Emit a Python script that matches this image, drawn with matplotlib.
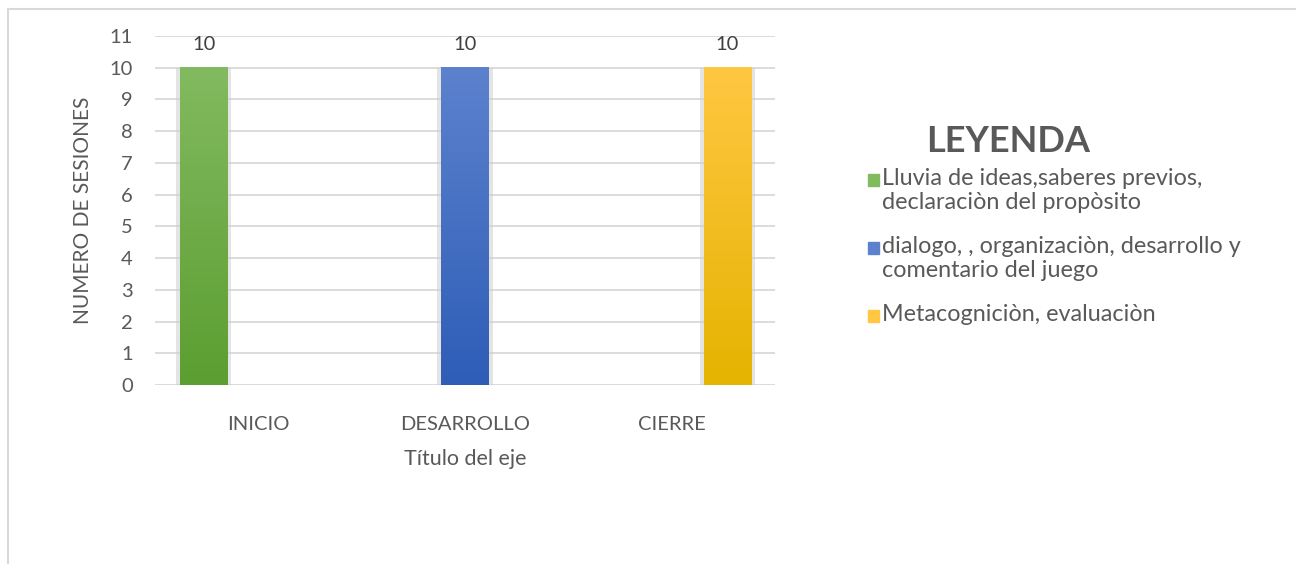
import numpy as np
import matplotlib.pyplot as plt
from matplotlib.patches import Rectangle
from matplotlib.colors import LinearSegmentedColormap

categories = ["INICIO", "DESARROLLO", "CIERRE"]
series_names = [
    "Lluvia de ideas,saberes previos,\ndeclaraciòn del propòsito",
    "dialogo, , organizaciòn, desarrollo y\ncomentario del juego",
    "Metacogniciòn, evaluaciòn",
]
values_lluvia = [10, np.nan, np.nan]
values_dialogo = [np.nan, 10, np.nan]
values_meta = [np.nan, np.nan, 10]
series_values = [values_lluvia, values_dialogo, values_meta]

# top / bottom colours of the gradient fill, like the Excel style
grad_colors = [
    ("#82ba60", "#5c9e31"),
    ("#5c82cd", "#2e5db7"),
    ("#ffc742", "#e5b300"),
]

plt.rcParams["font.family"] = ["Lato", "DejaVu Sans"]
text_col = "#595959"
W, H = 1296, 564

fig = plt.figure(figsize=(W / 100, H / 100), dpi=100)
ax = fig.add_axes([155 / W, 1 - 385 / H, 620 / W, 349 / H])

# outer chart border (runs off the right and bottom edge)
fig.patches.append(Rectangle((8 / W, -0.1), 1.2, 1 - 9 / H + 0.1,
                             transform=fig.transFigure, fill=False,
                             edgecolor="#d9d9d9", lw=1.5))

x = np.arange(len(categories))
width = 0.228
offsets = [-0.265, 0.0, 0.27]

ax.set_xlim(-0.5, len(categories) - 0.5)
ax.set_ylim(0, 11)

for vals, name, off, (ctop, cbot) in zip(series_values, series_names, offsets, grad_colors):
    # soft shadow behind the bars
    ax.bar(x + off, vals, width + 0.04, color="#cfcfcf", alpha=0.55, zorder=2)
    bars = ax.bar(x + off, vals, width, color=cbot, label=name, zorder=3)
    cmap = LinearSegmentedColormap.from_list("g", [cbot, ctop])
    grad = np.linspace(0, 1, 256).reshape(-1, 1)
    for b, v in zip(bars, vals):
        if np.isnan(v):
            continue
        ax.imshow(grad, cmap=cmap, origin="lower", aspect="auto", zorder=4,
                  extent=[b.get_x(), b.get_x() + b.get_width(), 0, v])
        ax.text(b.get_x() + b.get_width() / 2, v + 0.45, f"{v:.0f}",
                ha="center", va="bottom", fontsize=14.5, color="#404040", zorder=5)

ax.set_xlim(-0.5, len(categories) - 0.5)
ax.set_ylim(0, 11)
ax.set_yticks(range(0, 12))
ax.set_xticks(x)
ax.set_xticklabels(categories)
ax.grid(axis="y", color="#d9d9d9", lw=1.3, zorder=0)
ax.set_axisbelow(True)
for s in ax.spines.values():
    s.set_visible(False)
ax.tick_params(axis="both", length=0, labelsize=14.5, colors=text_col)
ax.tick_params(axis="y", pad=16)
ax.tick_params(axis="x", pad=22)
ax.set_xlabel("Título del eje", fontsize=15.5, color=text_col, labelpad=12)
ax.set_ylabel("NUMERO DE SESIONES", fontsize=15, color=text_col, labelpad=12)

# legend, Excel style: title on top, swatch aligned with first text line
fig.text(1008 / W, 1 - 141 / H, "LEYENDA", fontsize=26, fontweight="bold",
         color=text_col, ha="center", va="center")
line_h = 27
gap = 14
y = 180
for name, (ctop, cbot) in zip(series_names, grad_colors):
    fig.patches.append(Rectangle((868 / W, 1 - (y + 6) / H), 11 / W, 12 / H,
                                 transform=fig.transFigure, color=ctop))
    fig.text(882 / W, 1 - (y - 12) / H, name, fontsize=16.8, color=text_col,
             ha="left", va="top", linespacing=1.16)
    y += line_h * (name.count("\n") + 1) + gap

fig.savefig("out.png", dpi=100)
